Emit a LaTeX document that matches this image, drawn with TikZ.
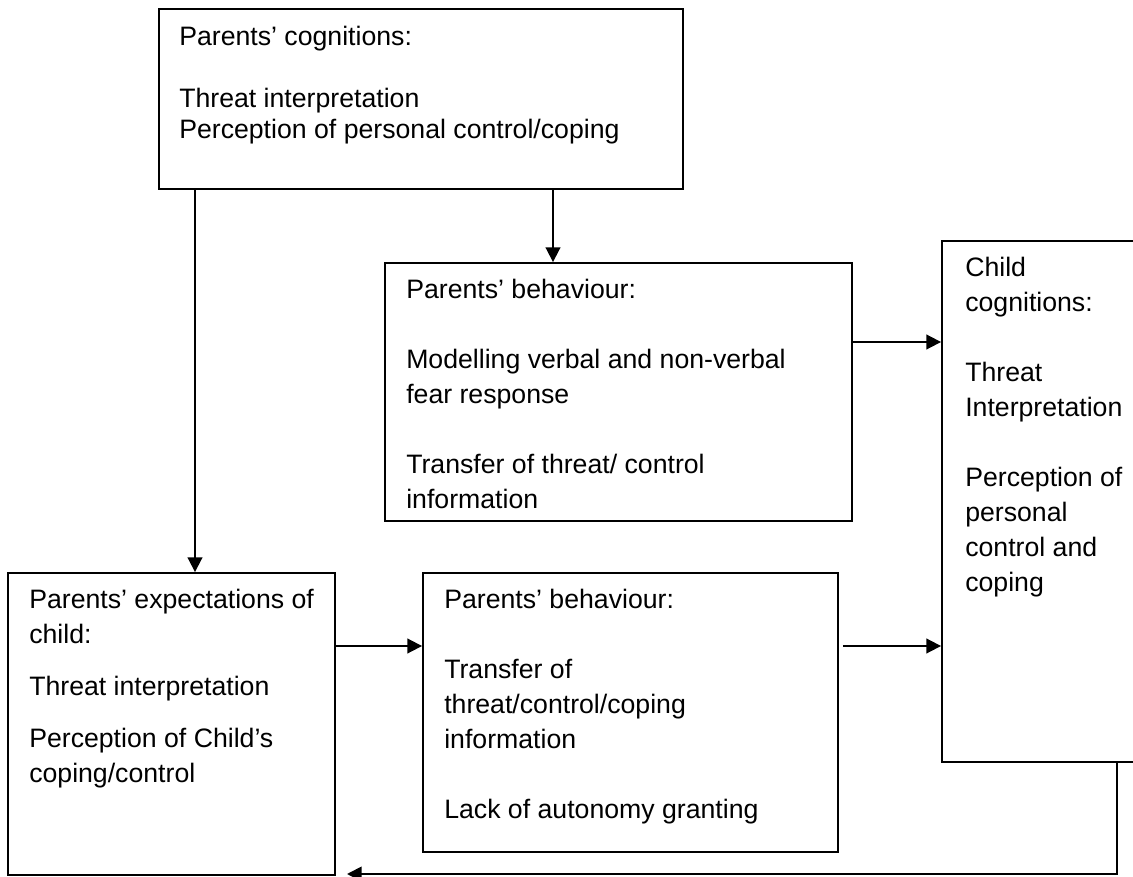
\documentclass[tikz,border=0pt]{standalone}
\usepackage{fontspec}
\setmainfont{Liberation Sans}
\usetikzlibrary{arrows.meta,fit}
\newcommand\firststrut{\rule{0pt}{16pt}}
\tikzset{
  boxst/.style={draw=black, line width=1.4pt, inner sep=0pt, fill=none},
  txt/.style={inner sep=0pt, align=left, anchor=north west, text=black,
    font=\fontsize{20pt}{26.25pt}\selectfont},
  txtone/.style={txt, font=\fontsize{20pt}{23.25pt}\selectfont},
  arr/.style={draw=black, line width=1.4pt, -{Triangle[length=11pt,width=11pt]}}
}
\begin{document}
\begin{tikzpicture}[x=0.75pt,y=-0.75pt]
\useasboundingbox (0,0) rectangle (1133,877);
\clip (0,0) rectangle (1133,877);
\fill[white] (0,0) rectangle (1133,877);
% boxes
\node[boxst, fit={(159,9) (683,189)}] (b1) {};
\node[boxst, fit={(385,263) (852,521)}] (b2) {};
\node[boxst, fit={(942,241) (1150,762)}] (b3) {};
\node[boxst, fit={(8,573) (335,875)}] (b4) {};
\node[boxst, fit={(423,573) (838,852)}] (b5) {};
% texts (first baseline = top + 16pt)
\node[txtone] (t1) at (179,23.67) {\firststrut Parents’ cognitions:\\[23.25pt]Threat interpretation\\Perception of personal control/coping};
\node[txt] (t2) at (406,276.67) {\firststrut Parents’ behaviour:\\[26.25pt]Modelling verbal and non-verbal\\fear response\\[26.25pt]Transfer of threat/ control\\information};
\node[txt] (t3) at (965,254.67) {\firststrut Child\\cognitions:\\[26.25pt]Threat\\Interpretation\\[26.25pt]Perception of\\personal\\control and\\coping};
\node[txt] (t4) at (29,586.67) {\firststrut Parents’ expectations of\\child:\\[12.75pt]Threat interpretation\\[12.75pt]Perception of Child’s\\coping/control};
\node[txt] (t5) at (444,586.67) {\firststrut Parents’ behaviour:\\[26.25pt]Transfer of\\threat/control/coping\\information\\[26.25pt]Lack of autonomy granting};
% connectors
\draw[arr] (b1.south -| 195,0) -- (b4.north -| 195,0);
\draw[arr] (b1.south -| 553,0) -- (b2.north -| 553,0);
\draw[arr] (b2.east |- 0,342) -- (b3.west |- 0,342);
\draw[arr] (b4.east |- 0,646) -- (b5.west |- 0,646);
\draw[arr] ([xshift=3pt]b5.east |- 0,646) -- (b3.west |- 0,646);
\coordinate (fb) at (347,874);
\draw[arr] (b3.south -| 1117,0) |- (fb);
\end{tikzpicture}
\end{document}
